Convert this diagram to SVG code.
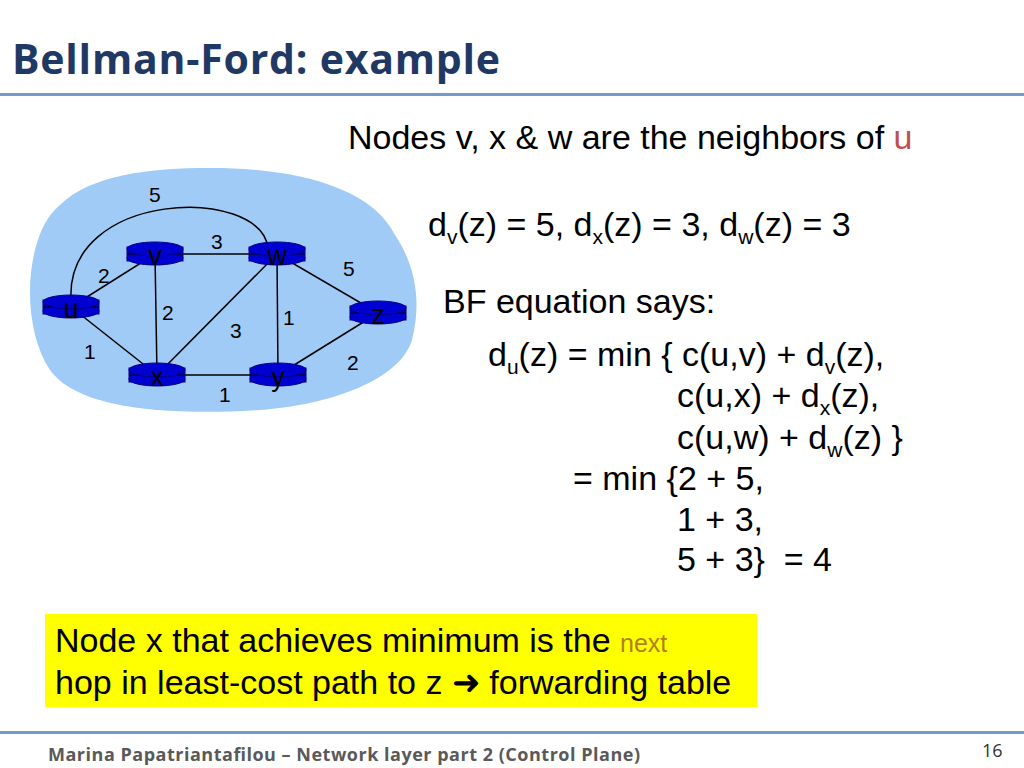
<svg xmlns="http://www.w3.org/2000/svg" width="1024" height="768" viewBox="0 0 1024 768">
<defs>
<style>
.t{font-family:"Liberation Sans",Arial,sans-serif;font-size:34px;fill:#000}
.l{font-family:"Liberation Sans",Arial,sans-serif;font-size:21px;fill:#000}
.e{stroke:#000;stroke-width:1.5;fill:none}
.r{fill:#0000d0;stroke:#000080;stroke-width:1}
.n{font-family:"Liberation Sans",Arial,sans-serif;font-size:27px;fill:#000;text-anchor:middle}
</style>
<g id="router">
<rect class="r" x="-28" y="-7" width="56" height="14"/>
<ellipse class="r" cx="0" cy="4" rx="28" ry="7"/>
<rect x="-27.5" y="-6" width="55" height="10" fill="#0000d0"/>
<ellipse class="r" cx="0" cy="-5" rx="28" ry="7"/>
<path d="M-28,0 h8 M20,0 h8" stroke="#000" stroke-width="1"/>
</g>
</defs>
<rect width="1024" height="768" fill="#fff"/>
<text x="12" y="74" font-family="Open Sans,Lato,sans-serif" font-weight="bold" font-size="41" fill="#1f3864" textLength="488">Bellman-Ford: example</text>
<rect x="0" y="93" width="1024" height="3" fill="#4f81bd" opacity="0.8"/>
<path d="M60,205 C90,175 150,168 210,168 C290,168 370,185 395,235 C415,265 422,300 412,340 C400,380 330,405 260,410 C180,415 80,412 50,370 C30,340 25,290 35,250 C40,230 48,215 60,205 Z" fill="#9fcbf6"/>
<g id="edges">
<path class="e" d="M71,300 C65,190 260,185 268,248"/>
<line class="e" x1="71" y1="307" x2="155" y2="254"/>
<line class="e" x1="71" y1="307" x2="157" y2="375"/>
<line class="e" x1="155" y1="254" x2="277" y2="254"/>
<line class="e" x1="155" y1="254" x2="157" y2="375"/>
<line class="e" x1="157" y1="375" x2="277" y2="254"/>
<line class="e" x1="157" y1="375" x2="278" y2="375"/>
<line class="e" x1="277" y1="254" x2="278" y2="375"/>
<line class="e" x1="277" y1="254" x2="378" y2="313"/>
<line class="e" x1="278" y1="375" x2="378" y2="313"/>
</g>
<g id="labels">
<text class="l" x="149" y="202">5</text>
<text class="l" x="211" y="249">3</text>
<text class="l" x="98" y="283">2</text>
<text class="l" x="343" y="276">5</text>
<text class="l" x="162" y="320">2</text>
<text class="l" x="230" y="338">3</text>
<text class="l" x="283" y="325">1</text>
<text class="l" x="84" y="359">1</text>
<text class="l" x="347" y="370">2</text>
<text class="l" x="219" y="402">1</text>
</g>
<g id="u"><use href="#router" x="71" y="307"/><text class="n" x="71" y="318">u</text></g>
<g id="v"><use href="#router" x="155" y="254"/><text class="n" x="155" y="265">v</text></g>
<g id="w"><use href="#router" x="277" y="254"/><text class="n" x="277" y="265">w</text></g>
<g id="z"><use href="#router" x="378" y="313"/><text class="n" x="378" y="324">z</text></g>
<g id="x"><use href="#router" x="157" y="375"/><text class="n" x="157" y="386">x</text></g>
<g id="y"><use href="#router" x="278" y="375"/><text class="n" x="278" y="386">y</text></g>
<text class="t" x="348" y="149">Nodes v, x &amp; w are the neighbors of <tspan fill="#c0504d">u</tspan></text>
<text class="t" x="428" y="236">d<tspan font-size="21" dy="8">v</tspan><tspan dy="-8">(z) = 5, d</tspan><tspan font-size="21" dy="8">x</tspan><tspan dy="-8">(z) = 3, d</tspan><tspan font-size="21" dy="8">w</tspan><tspan dy="-8">(z) = 3</tspan></text>
<text class="t" x="443" y="313">BF equation says:</text>
<text class="t" x="488" y="366">d<tspan font-size="21" dy="8">u</tspan><tspan dy="-8">(z) = min { c(u,v) + d</tspan><tspan font-size="21" dy="8">v</tspan><tspan dy="-8">(z),</tspan></text>
<text class="t" x="677" y="407">c(u,x) + d<tspan font-size="21" dy="8">x</tspan><tspan dy="-8">(z),</tspan></text>
<text class="t" x="677" y="449">c(u,w) + d<tspan font-size="21" dy="8">w</tspan><tspan dy="-8">(z) }</tspan></text>
<text class="t" x="573" y="490">= min {2 + 5,</text>
<text class="t" x="677" y="531">1 + 3,</text>
<text class="t" x="677" y="571" xml:space="preserve">5 + 3}  = 4</text>
<rect x="45" y="614" width="712" height="93" fill="#ffff00"/>
<text class="t" x="55" y="652" fill="#c00000">Node <tspan fill="#000">x</tspan> that achieves minimum is the <tspan font-size="25" fill="#b08020">next</tspan></text>
<text class="t" x="55" y="694" fill="#c00000">hop in least-cost path to z ➜ forwarding table</text>
<rect x="0" y="731" width="1024" height="3" fill="#4f81bd" opacity="0.8"/>
<text x="48" y="761" font-family="Open Sans,Lato,sans-serif" font-weight="bold" font-size="18" fill="#595959" textLength="592">Marina Papatriantafilou –  Network layer part 2 (Control Plane)</text>
<text x="982" y="757" font-family="Open Sans,sans-serif" font-size="18" fill="#333">16</text>
</svg>
